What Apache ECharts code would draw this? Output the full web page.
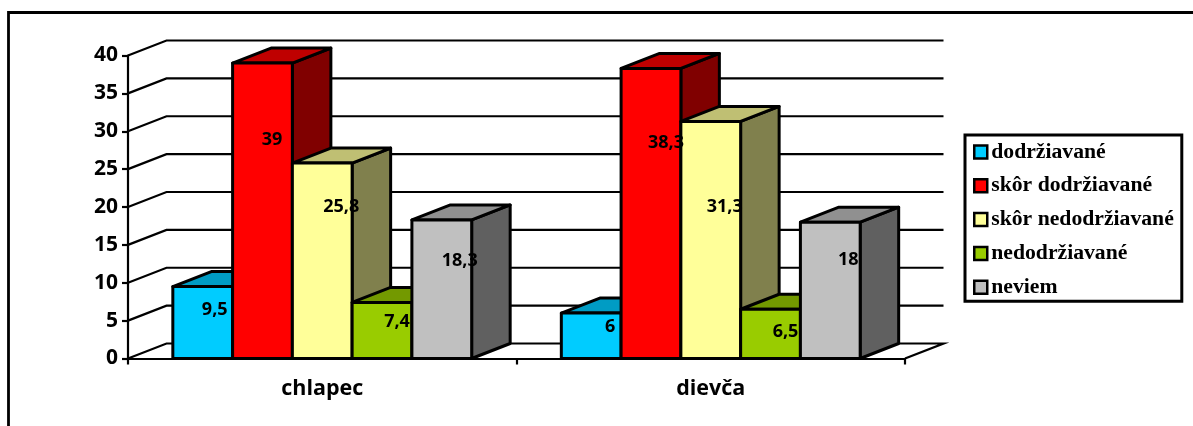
<!DOCTYPE html>
<html><head><meta charset="utf-8">
<style>html,body{margin:0;padding:0;background:#fff}#c{width:1193px;height:426px}</style>
<script src="https://cdn.jsdelivr.net/npm/echarts@6/dist/echarts.min.js"></script>
</head><body><div id="c"></div>
<script>
const categories = ['chlapec', 'dievča'];
const seriesNames = ['dodržiavané', 'skôr dodržiavané', 'skôr nedodržiavané', 'nedodržiavané', 'neviem'];
const dodrziavane = [9.5, 6];
const skorDodrziavane = [39, 38.3];
const skorNedodrziavane = [25.8, 31.3];
const nedodrziavane = [7.4, 6.5];
const neviem = [18.3, 18];
const yTicks = [0, 5, 10, 15, 20, 25, 30, 35, 40];

// presentation only
const values = [dodrziavane, skorDodrziavane, skorNedodrziavane, nedodrziavane, neviem];
const faces = [
  ['#00CCFF', '#009CC4', '#006680'],
  ['#FF0000', '#BF0000', '#800000'],
  ['#FFFF99', '#BFBF73', '#80804D'],
  ['#99CC00', '#739900', '#4D6600'],
  ['#C0C0C0', '#909090', '#606060']
];
const labelShift = [
  [[12, -14], [19, -10]],
  [[9.5, -72], [15, -72]],
  [[19, -55], [14, -34]],
  [[15, -10], [15, -3]],
  [[18, -29], [18, -31]]
];
const depthX = 38.5, depthY = -15, gapRatio = 1.5, edge = 3;
const sans = '"Open Sans"', serif = '"Liberation Serif"';

function barBox(api, s) {
  const cat = api.value(0), v = api.value(1);
  const band = api.size([1, 0])[0];
  const w = band / (values.length + gapRatio);
  const cx = api.coord([cat, 0])[0];
  const x0 = cx - w * values.length / 2 + s * w;
  return { x0, x1: x0 + w, yb: api.coord([cat, 0])[1], yt: api.coord([cat, v])[1] };
}
function poly(points, fill) {
  return { type: 'polygon', shape: { points },
    style: { fill, stroke: '#000', lineWidth: edge, lineJoin: 'round' } };
}
const barSeries = values.map((vals, s) => ({
  type: 'custom', name: seriesNames[s], z: 3 + s,
  itemStyle: { color: faces[s][0] },
  data: vals.map((v, i) => [i, v]),
  encode: { x: 0, y: 1 },
  renderItem(params, api) {
    const b = barBox(api, s);
    return { type: 'group', children: [
      poly([[b.x1, b.yb], [b.x1 + depthX, b.yb + depthY], [b.x1 + depthX, b.yt + depthY], [b.x1, b.yt]], faces[s][2]),
      poly([[b.x0, b.yt], [b.x1, b.yt], [b.x1 + depthX, b.yt + depthY], [b.x0 + depthX, b.yt + depthY]], faces[s][1]),
      poly([[b.x0, b.yb], [b.x1, b.yb], [b.x1, b.yt], [b.x0, b.yt]], faces[s][0])
    ] };
  }
}));
const labelSeries = values.map((vals, s) => ({
  type: 'custom', name: 'label' + s, z: 20, silent: true,
  data: vals.map((v, i) => [i, v]),
  encode: { x: 0, y: 1 },
  renderItem(params, api) {
    const b = barBox(api, s);
    const sh = labelShift[s][params.dataIndex];
    return { type: 'text', style: {
      x: (b.x0 + b.x1) / 2 + sh[0], y: (b.yb + b.yt) / 2 + sh[1] + 1,
      text: String(api.value(1)).replace('.', ','),
      align: 'center', verticalAlign: 'middle',
      font: 'bold 18px ' + sans, fill: '#000' } };
  }
}));
const wallSeries = {
  type: 'custom', name: 'wall', z: 1, silent: true,
  data: yTicks.map(t => [0, t]),
  encode: { x: 0, y: 1 },
  renderItem(params, api) {
    const y = api.coord([0, api.value(1)])[1];
    const cs = params.coordSys;
    const pts = [[cs.x, y], [cs.x + depthX, y + depthY], [cs.x + cs.width + depthX, y + depthY]];
    if (api.value(1) === 0) pts.push([cs.x + cs.width, y]);
    return { type: 'polyline', shape: { points: pts },
      style: { fill: 'none', stroke: '#000', lineWidth: 2.2 } };
  }
};

const chart = echarts.init(document.getElementById('c'), null, { renderer: 'canvas' });
chart.setOption({
  animation: false,
  backgroundColor: '#fff',
  grid: { left: 128, top: 55.5, width: 777, height: 303 },
  xAxis: { type: 'category', data: categories,
    axisLine: { lineStyle: { color: '#000', width: 2.2 } },
    axisTick: { show: true, alignWithLabel: false, length: 6, lineStyle: { color: '#000', width: 2.2 } },
    axisLabel: { color: '#000', fontFamily: sans, fontWeight: 'bold', fontSize: 21.5, margin: 19 }
  },
  yAxis: { type: 'value', min: 0, max: 40, interval: 5,
    splitLine: { show: false },
    axisLine: { show: true, lineStyle: { color: '#000', width: 2.2 } },
    axisTick: { show: true, length: 6, lineStyle: { color: '#000', width: 2.2 } },
    axisLabel: { color: '#000', fontFamily: sans, fontWeight: 'bold', fontSize: 21, margin: 10, padding: [5, 0, 0, 0] }
  },
  legend: {
    data: seriesNames, orient: 'vertical', left: 965, top: 135,
    padding: [6, 8, 3, 8], itemWidth: 13, itemHeight: 13, itemGap: 11.8,
    icon: 'rect', borderColor: '#000', borderWidth: 3, backgroundColor: '#fff',
    selectedMode: false,
    itemStyle: { borderColor: '#000', borderWidth: 2.5 },
    textStyle: { color: '#000', fontFamily: serif, fontWeight: 'bold', fontSize: 21.7, padding: [0, 0, 0, -1] }
  },
  graphic: [
    { type: 'polyline', z: 0, shape: { points: [[8.5, 426], [8.5, 12.5], [1193, 12.5]] },
      style: { fill: 'none', stroke: '#000', lineWidth: 2.8 } }
  ],
  series: [wallSeries, ...barSeries, ...labelSeries]
});
</script></body></html>
